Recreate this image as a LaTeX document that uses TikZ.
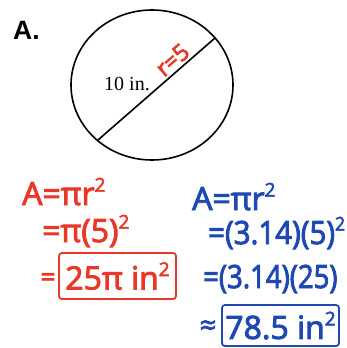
\documentclass[tikz,border=0pt]{standalone}
\usepackage{graphicx}
\usepackage{fontspec}
\usetikzlibrary{calc}
\setmainfont{Liberation Serif}
\newfontfamily\headfont{Liberation Sans}
\newfontfamily\handfont[FakeBold=3]{Open Sans}
\definecolor{penred}{RGB}{232,56,40}
\definecolor{penblue}{RGB}{30,72,178}
\newcommand{\sqr}{\raisebox{0.42em}{\fontsize{19}{19}\selectfont 2}}
\tikzset{
    redpen/.style={text=penred, font=\handfont\fontsize{32}{32}\selectfont, inner sep=0pt},
    bluepen/.style={text=penblue, font=\handfont\fontsize{32}{32}\selectfont, inner sep=0pt},
    answerbox/.style={draw, line width=1.8pt, rounded corners=3pt, inner sep=0pt}
}
\begin{document}
\begin{tikzpicture}[x=1pt,y=-1pt]
    \useasboundingbox (0,0) rectangle (347,348);

    % Draw circle and diameter
    \draw[line width=1.6pt] (152,85) ellipse [x radius=81, y radius=75];
    \coordinate (dlow) at (98,140);
    \coordinate (dhigh) at (215,38);
    \draw[line width=1.6pt] (dlow) -- (dhigh);

    % Labels on the figure
    \node[anchor=base west, font=\headfont\bfseries\fontsize{26.5}{26.5}\selectfont, inner sep=0pt] (part) at (13,39) {A.};
    \node[anchor=base, font=\fontsize{20}{20}\selectfont, inner sep=0pt] (diam) at (127,90) {10 in.};
    \node[redpen, font=\handfont\fontsize{23}{23}\selectfont, rotate=41, anchor=south, inner sep=3pt] (rad) at ($(dlow)!0.70!(dhigh)$) {r=5};

    % Exact answer in red
    \node[redpen, anchor=base west] (redA) at (22,205) {A=πr\sqr};
    \node[redpen, anchor=base west] (redB) at (42,242) {=π(5)\sqr};
    \node[redpen, anchor=base, font=\handfont\fontsize{26}{26}\selectfont] (redCeq) at (48,286) {=};
    \node[redpen, answerbox, draw=penred, minimum width=117pt, minimum height=46pt] (redC) at (117.5,276) {25π in\sqr};

    % Approximate answer in blue
    \node[bluepen, anchor=base west] (blueA) at (192,210) {A=πr\sqr};
    \node[bluepen, anchor=base west] (blueB) at (208,244) {\scalebox{0.92}[1]{=(3.14)(5)\sqr}};
    \node[bluepen, anchor=base west] (blueC) at (203,288) {\scalebox{0.86}[1]{=(3.14)(25)}};
    \node[bluepen, anchor=base, font=\handfont\fontsize{28}{28}\selectfont] (blueDeq) at (208,335) {≈};
    \node[bluepen, answerbox, draw=penblue, minimum width=117pt, minimum height=41pt] (blueD) at (280.5,325.5) {78.5 in\sqr};

\end{tikzpicture}
\end{document}
